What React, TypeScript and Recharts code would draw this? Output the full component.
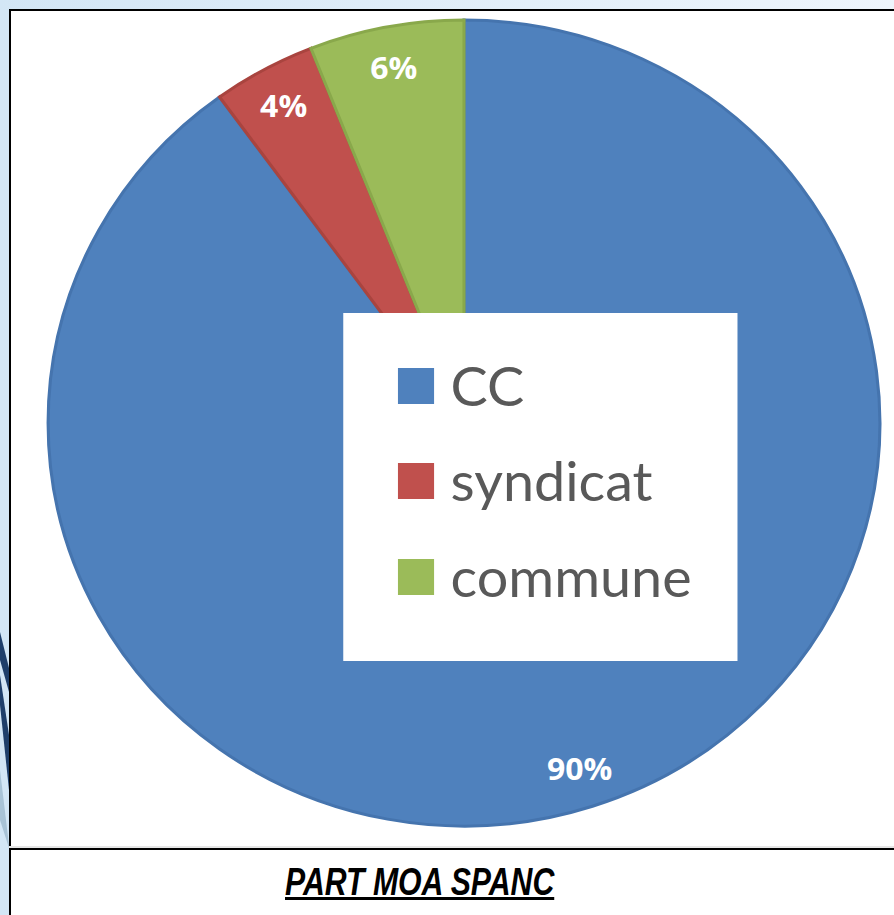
import React from 'react';
import { PieChart, Pie, Cell, Legend } from 'recharts';

const categories = ['CC', 'syndicat', 'commune'];
const values = [90, 4, 6];
const fills = ['#4F81BD', '#C0504D', '#9BBB59'];
const strokes = ['#4574AE', '#A9443F', '#89A84B'];
const title = 'PART MOA SPANC';

const data = categories.map((name, i) => ({ name, value: values[i] }));

const RAD = Math.PI / 180;

const renderLabel = (props: any) => {
  const { cx, cy, midAngle, outerRadius, value } = props;
  const r = outerRadius * 0.9;
  const x = cx + r * Math.cos(-midAngle * RAD);
  const y = cy + r * Math.sin(-midAngle * RAD);
  return (
    <text
      x={x}
      y={y}
      fill="#ffffff"
      textAnchor="middle"
      dominantBaseline="central"
      style={{ fontFamily: '"Open Sans", Lato, sans-serif', fontWeight: 700, fontSize: 31 }}
    >
      {`${value}%`}
    </text>
  );
};

const rowCenters = [73, 168, 264];

const renderLegend = (props: any) => {
  const payload: any[] = props.payload || [];
  const ordered = categories
    .map((c) => payload.find((p: any) => p.value === c))
    .filter(Boolean);
  return (
    <div style={{ position: 'relative', width: 382, height: 348, background: '#ffffff' }}>
      {ordered.map((entry: any, i: number) => (
        <div
          key={entry.value}
          style={{
            position: 'absolute',
            left: 53,
            top: rowCenters[i] - 30,
            height: 60,
            display: 'flex',
            alignItems: 'center',
          }}
        >
          <div style={{ width: 35, height: 36, background: entry.color }} />
          <span
            style={{
              marginLeft: 16,
              fontFamily: 'Lato, "Open Sans", sans-serif',
              fontSize: 54,
              color: '#595959',
              lineHeight: '60px',
              whiteSpace: 'nowrap',
            }}
          >
            {entry.value}
          </span>
        </div>
      ))}
    </div>
  );
};

export default function App() {
  return (
    <div
      style={{
        position: 'fixed',
        left: 0,
        top: 0,
        width: 894,
        height: 915,
        overflow: 'hidden',
        background: 'linear-gradient(to right, #d3e6f5, #eef5fc)',
      }}
    >
      <svg width={12} height={915} style={{ position: 'absolute', left: 0, top: 0 }}>
        <polygon points="0,632 9,668 9,692 0,660" fill="#1f3f6a" />
        <polygon points="0,675 9,735 9,790 0,705" fill="#1f3f6a" />
        <polygon points="0,770 9,845 9,848 0,820" fill="#a9c3d6" />
      </svg>
      <div
        style={{
          position: 'absolute',
          left: 9,
          top: 9,
          width: 900,
          height: 906,
          background: '#ffffff',
          borderLeft: '2px solid #000',
          borderTop: '2px solid #000',
          boxSizing: 'border-box',
        }}
      />
      <div style={{ position: 'absolute', left: 9, top: 846, width: 900, height: 2, background: '#e6e6e6' }} />
      <div style={{ position: 'absolute', left: 9, top: 848, width: 900, height: 2, background: '#000' }} />
      <div style={{ position: 'absolute', left: 10, top: 10, width: 884, height: 838 }}>
        <div style={{ transform: 'scaleX(1.032)', transformOrigin: '454px 0px' }}>
          <PieChart width={884} height={838} margin={{ top: 0, right: 0, bottom: 0, left: 0 }}>
            <Pie
              data={data}
              dataKey="value"
              nameKey="name"
              cx={454}
              cy={413}
              outerRadius={403}
              startAngle={90}
              endAngle={-270}
              label={renderLabel}
              labelLine={false}
              isAnimationActive={false}
            >
              {data.map((d, i) => (
                <Cell key={d.name} fill={fills[i]} stroke={strokes[i]} strokeWidth={3} />
              ))}
            </Pie>
            <Legend
              content={renderLegend}
              wrapperStyle={{ position: 'absolute', left: 337, top: 303, width: 382, height: 348 }}
            />
          </PieChart>
        </div>
      </div>
      <div
        style={{
          position: 'absolute',
          left: 285,
          top: 862,
          fontFamily: '"Liberation Sans", Arial, sans-serif',
          fontWeight: 700,
          fontStyle: 'italic',
          fontSize: 39,
          lineHeight: '39px',
          textDecoration: 'underline',
          color: '#000',
          whiteSpace: 'nowrap',
          transform: 'scaleX(0.775)',
          transformOrigin: '0px 0px',
        }}
      >
        {title}
      </div>
    </div>
  );
}
